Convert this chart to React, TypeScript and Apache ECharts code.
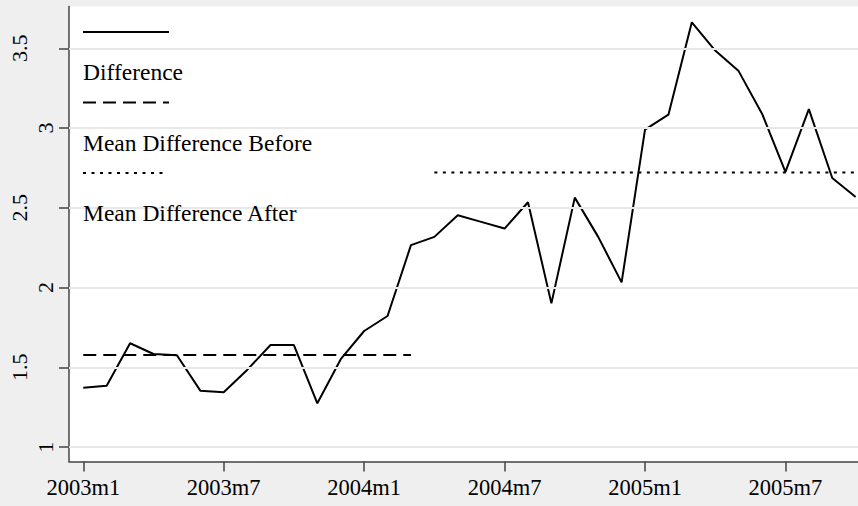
import React, { useEffect, useRef } from "react";
import * as echarts from "echarts";

// Months indexed from 2003m1 (0) to 2005m10 (33)
const months: number[] = Array.from({ length: 34 }, (_, i) => i);
const difference: number[] = [
  1.373, 1.385, 1.651, 1.584, 1.576, 1.354, 1.344, 1.484, 1.64, 1.64,
  1.275, 1.551, 1.728, 1.822, 2.266, 2.318, 2.454, 2.412, 2.37, 2.535,
  1.901, 2.564, 2.318, 2.033, 2.99, 3.084, 3.663, 3.486, 3.357, 3.09,
  2.725, 3.119, 2.687, 2.568,
];
const meanBeforeRange: number[] = [0, 14];
const meanBefore = 1.578;
const meanAfterRange: number[] = [15, 33];
const meanAfter = 2.721;
const xTickValues: number[] = [0, 6, 12, 18, 24, 30];
const xTickLabels: string[] = ["2003m1", "2003m7", "2004m1", "2004m7", "2005m1", "2005m7"];
const yTickValues: number[] = [1, 1.5, 2, 2.5, 3, 3.5];
const yTickLabels: string[] = ["1", "1.5", "2", "2.5", "3", "3.5"];
const legendLabels: string[] = ["Difference", "Mean Difference Before", "Mean Difference After"];

const FONT = "Liberation Serif";
const Y_MIN = 0.91;
const Y_MAX = 3.762;

export default function App() {
  const ref = useRef<HTMLDivElement>(null);
  useEffect(() => {
    if (!ref.current) return;
    const chart = echarts.init(ref.current, null, { renderer: "svg" });
    const diffData = months.map((m, i) => [m, difference[i]]);
    const beforeData = meanBeforeRange.map((m) => [m, meanBefore]);
    const afterData = meanAfterRange.map((m) => [m, meanAfter]);
    const dashStyles: any[] = [null, [13, 7], [3, 5.5]];
    const legendGraphics: any[] = [];
    legendLabels.forEach((lab, i) => {
      const y0 = 32 + i * 70.5;
      legendGraphics.push({
        type: "line",
        shape: { x1: 83, y1: y0, x2: i === 2 ? 167 : 169, y2: y0 },
        style: { stroke: "#000", lineWidth: 2, lineDash: dashStyles[i] },
        z: 10,
      });
      legendGraphics.push({
        type: "text",
        x: 83,
        y: y0 + 40,
        style: {
          text: lab,
          fontFamily: FONT,
          fontSize: 23.5,
          fill: "#000",
          verticalAlign: "middle",
          align: "left",
        },
        z: 10,
      });
    });
    const shortTicks = yTickValues.filter((_, i) => yTickLabels[i].length === 1);
    const longTicks = yTickValues.filter((_, i) => yTickLabels[i].length > 1);
    const yFormatter = (v: number) => {
      const idx = yTickValues.findIndex((t) => Math.abs(t - v) < 1e-6);
      return idx >= 0 ? yTickLabels[idx] : "";
    };
    const baseY = {
      type: "value",
      min: Y_MIN,
      max: Y_MAX,
      position: "left",
      splitLine: { show: false },
    };
    chart.setOption({
      animation: false,
      backgroundColor: "#efefef",
      textStyle: { fontFamily: FONT },
      grid: {
        left: 69,
        top: 6.5,
        right: 0,
        bottom: 44.5,
        show: true,
        backgroundColor: "#ffffff",
        borderWidth: 0,
      },
      xAxis: {
        type: "value",
        min: -0.61,
        max: 33.1,
        axisLine: { show: true, onZero: false, lineStyle: { color: "#444", width: 1.5 } },
        axisTick: { show: true, length: 10, customValues: xTickValues, lineStyle: { color: "#444", width: 1.5 } },
        axisLabel: {
          customValues: xTickValues,
          formatter: (v: number) => xTickLabels[xTickValues.indexOf(Math.round(v))] ?? "",
          color: "#000",
          fontSize: 22.5,
          fontFamily: FONT,
          margin: 14,
        },
        splitLine: { show: false },
      },
      yAxis: [
        {
          ...baseY,
          axisLine: { show: true, onZero: false, lineStyle: { color: "#444", width: 1.5 } },
          axisTick: { show: true, length: 10, customValues: yTickValues, lineStyle: { color: "#444", width: 1.5 } },
          axisLabel: {
            customValues: shortTicks,
            formatter: yFormatter,
            rotate: 90,
            color: "#000",
            fontSize: 22,
            fontFamily: FONT,
            margin: 13,
          },
        },
        {
          ...baseY,
          offset: 0,
          axisLine: { show: false },
          axisTick: { show: false },
          axisLabel: {
            customValues: longTicks,
            formatter: yFormatter,
            rotate: 90,
            color: "#000",
            fontSize: 22,
            fontFamily: FONT,
            margin: 39,
          },
        },
      ],
      graphic: legendGraphics,
      series: [
        {
          name: "grid",
          type: "line",
          data: [],
          silent: true,
          markLine: {
            silent: true,
            symbol: "none",
            label: { show: false },
            lineStyle: { color: "#e8e8e8", width: 2, type: "solid" },
            data: yTickValues.map((v) => ({ yAxis: v })),
          },
          z: 1,
        },
        {
          name: legendLabels[0],
          type: "line",
          data: diffData,
          showSymbol: false,
          lineStyle: { color: "#000", width: 2 },
          z: 3,
        },
        {
          name: legendLabels[1],
          type: "line",
          data: beforeData,
          showSymbol: false,
          lineStyle: { color: "#000", width: 2, type: [13, 7] },
          z: 3,
        },
        {
          name: legendLabels[2],
          type: "line",
          data: afterData,
          showSymbol: false,
          lineStyle: { color: "#000", width: 2, type: [3, 5.5] },
          z: 3,
        },
      ],
    });
    return () => chart.dispose();
  }, []);
  return (
    <div
      ref={ref}
      style={{ position: "fixed", left: 0, top: 0, width: 858, height: 506 }}
    />
  );
}
